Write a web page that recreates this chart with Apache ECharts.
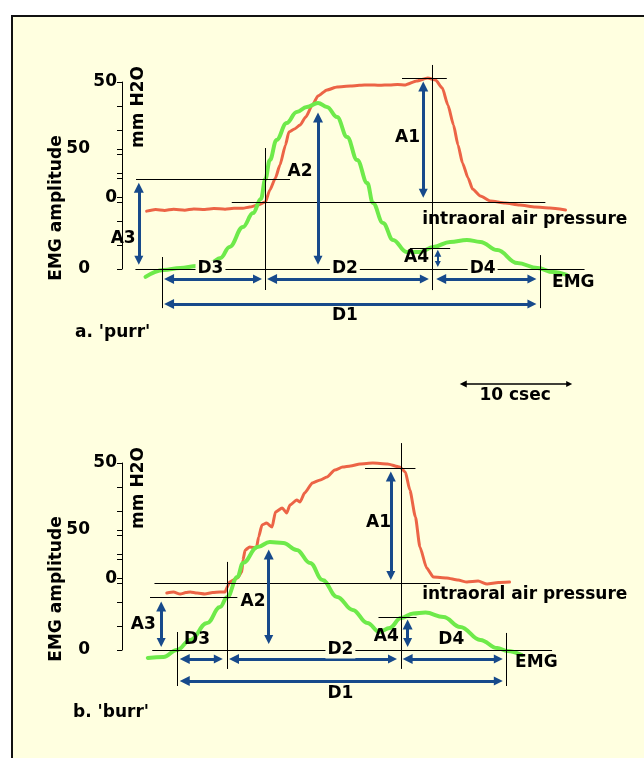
<!DOCTYPE html>
<html><head><meta charset="utf-8">
<script src="https://cdn.jsdelivr.net/npm/echarts@6/dist/echarts.min.js"></script>
<style>html,body{margin:0;padding:0;background:#fff}#c{width:644px;height:758px}</style>
</head><body><div id="c"></div>
<script>
// ---- time axis (csec) and amplitude scales ----
const timeRange = [0, 45];
const pressureRange = [0, 50];   // mm H2O
const emgRange = [0, 50];        // EMG amplitude
const tickLabels = [0, 50];

// ---- panel a: 'purr' ----
const purrPressure = [[2.2,-3.8],[3.0,-3.1],[3.8,-3.5],[4.6,-3.0],[5.6,-3.4],[6.4,-2.9],[7.4,-3.1],[8.2,-2.7],[9.2,-3.0],[10.0,-2.6],[10.8,-2.6],[11.4,-2.1],[12.1,-1.3],[12.8,0],[13.2,5.0],[13.7,10.0],[14.1,15.4],[14.6,23.8],[14.9,29.2],[15.4,30.4],[15.9,32.1],[16.4,35.4],[17.0,40.4],[17.5,44.2],[18.3,46.7],[19.2,47.9],[20.4,48.3],[21.2,48.6],[22.1,48.8],[23.0,48.6],[23.9,48.8],[24.6,49.0],[25.3,48.8],[26.3,50.4],[27.3,51.7],[28.0,50.8],[28.6,47.5],[29.1,40.4],[29.6,32.1],[30.0,23.8],[30.4,16.3],[30.9,10.0],[31.3,5.4],[32.0,2.5],[32.9,0.4],[34.2,-0.4],[35.5,-1.3],[36.9,-2.1],[38.2,-2.5],[39.6,-3.3]];
const purrEMG = [[2.1,-3.3],[3.7,-0.4],[5.2,0.4],[6.7,1.3],[7.9,2.5],[8.8,4.6],[9.6,9.2],[10.8,17.5],[11.7,23.3],[12.4,29.2],[12.8,37.5],[13.2,45.4],[13.8,53.8],[14.7,60.8],[15.6,65.4],[16.5,67.5],[17.5,69.2],[18.3,67.5],[19.2,63.3],[20.1,55.0],[21.0,45.4],[21.9,35.8],[22.4,27.5],[23.3,19.2],[24.2,12.1],[25.4,7.1],[26.6,7.1],[27.8,9.2],[29.3,11.3],[30.8,12.1],[32.0,11.3],[33.5,7.9],[35.3,2.5],[37.1,0.4],[38.5,-1.3],[39.7,-2.5]];
// reference lines (black), in pressure units / EMG units
const purrRefP = [[[9.8,0],[37.8,0]], [[25.0,51.7],[29.0,51.7]], [[27.7,57.1],[27.7,-36.7]]];
const purrRefE = [[[1.2,0],[41.3,0]], [[1.25,37.5],[15.0,37.5]], [[12.8,50.4],[12.8,-8.75]], [[3.6,5.0],[3.6,-16.3]], [[37.3,5.8],[37.3,-16.3]], [[25.7,8.75],[29.3,8.75]]];
// measurement arrows (blue)
const purrArrowsP = [[[26.9,48.1],[26.9,3.6]]];
const purrArrowsE = [[[17.5,63.1],[17.5,3.6]], [[1.5,33.9],[1.5,3.6]], [[4.2,-4.2],[12.1,-4.2]], [[13.4,-4.2],[27.0,-4.2]], [[28.5,-4.2],[36.6,-4.2]], [[4.2,-14.6],[36.6,-14.6]]];
const purrSmallArrowsE = [[[28.2,6.6],[28.2,2.1]]];
const purrLabelsP = [{text:'A1', at:[25.5,26.7]}, {text:'intraoral air pressure', at:[26.8,-7.5], left:true}];
const purrLabelsE = [{text:'A2', at:[15.9,40.4]}, {text:'A3', at:[0.1,12.5]}, {text:'A4', at:[26.3,4.6]}, {text:'D3', at:[7.9,0], bg:true}, {text:'D2', at:[19.9,0], bg:true}, {text:'D4', at:[32.2,0], bg:true}, {text:'D1', at:[19.9,-19.6]}, {text:'EMG', at:[38.4,-5.8], left:true}, {text:'10 csec', at:[35.1,-52.9]}];
// 10 csec scale bar
const scaleBar = [[[30.47,-47.9],[39.93,-47.9]]];

// ---- panel b: 'burr' ----
const burrPressure = [[4.0,-4.2],[4.6,-3.8],[5.2,-4.6],[5.7,-4.0],[6.1,-3.75],[6.7,-4.2],[7.4,-4.6],[8.1,-4.0],[8.75,-3.75],[9.2,-3.75],[9.4,-1.7],[9.6,0.4],[10.3,2.1],[10.7,4.6],[10.8,9.6],[11.0,13.75],[11.4,15.0],[12.0,14.6],[12.2,19.2],[12.5,24.2],[12.9,25.0],[13.4,23.3],[13.7,29.6],[14.3,31.25],[14.7,29.2],[15.0,32.5],[15.6,34.6],[15.9,33.75],[16.3,37.5],[17.0,41.7],[17.7,42.9],[18.3,44.2],[19.0,47.1],[19.7,48.3],[20.4,48.75],[21.25,49.6],[22.4,50.0],[23.7,49.6],[24.8,48.3],[25.3,46.25],[25.7,38.75],[26.2,27.5],[26.6,15.0],[27.2,6.25],[27.8,2.5],[29.0,2.1],[30.0,1.2],[30.8,0.4],[31.8,0.8],[32.6,-0.4],[33.6,0.2],[34.6,0.4]];
const burrEMG = [[2.3,-3.3],[3.7,-2.9],[4.9,0],[6.1,4.2],[7.6,11.25],[8.75,17.9],[9.4,22.1],[10.3,30.4],[10.8,36.25],[12.1,42.9],[13.2,45.0],[14.4,44.6],[15.6,41.7],[16.8,36.25],[17.9,29.2],[19.2,22.1],[20.6,16.7],[21.9,11.25],[23.0,7.5],[23.9,9.2],[24.9,13.3],[26.0,15.2],[27.1,15.6],[28.7,13.75],[30.2,9.6],[32.0,4.2],[33.5,0.8],[34.4,-0.4],[35.7,-2.1]];
const burrRefP = [[[2.9,0],[28.4,0]], [[21.7,47.9],[26.2,47.9]], [[24.9,58.3],[24.9,-35.8]]];
const burrRefE = [[[2.7,0],[38.4,0]], [[2.5,22.1],[10.3,22.1]], [[9.4,36.7],[9.4,-7.9]], [[4.9,7.5],[4.9,-15.0]], [[34.3,7.1],[34.3,-15.0]], [[22.9,13.75],[26.3,13.75]]];
const burrArrowsP = [[[24.0,44.35],[24.0,3.15]]];
const burrArrowsE = [[[13.1,39.8],[13.1,4.4]], [[3.5,18.1],[3.5,3.15]], [[25.5,10.6],[25.5,3.15]], [[5.6,-3.75],[8.6,-3.75]], [[10.0,-3.75],[24.15,-3.75]], [[25.5,-3.75],[33.6,-3.75]], [[5.6,-12.9],[33.6,-12.9]]];
const burrLabelsP = [{text:'A1', at:[22.9,25.0]}, {text:'intraoral air pressure', at:[26.8,-5.0], left:true}];
const burrLabelsE = [{text:'A2', at:[11.7,20.0]}, {text:'A3', at:[1.9,10.4]}, {text:'A4', at:[23.6,5.4]}, {text:'D3', at:[6.7,4.2]}, {text:'D2', at:[19.5,0], bg:true}, {text:'D4', at:[29.4,4.2]}, {text:'D1', at:[19.5,-18.3]}, {text:'EMG', at:[35.1,-5.4], left:true}];

// ---- styling / layout ----
const FONT = 'DejaVu Sans';
const RED = '#EC6446', GREEN = '#6EEA4A', BLUE = '#174A8B', BG = '#FFFFE0';
const panels = [
  {pTop:82, eTop:149, pressure:purrPressure, emg:purrEMG, refP:purrRefP, refE:purrRefE, arrP:purrArrowsP, arrE:purrArrowsE, smallE:purrSmallArrowsE, labP:purrLabelsP, labE:purrLabelsE, bar:scaleBar},
  {pTop:463, eTop:530, pressure:burrPressure, emg:burrEMG, refP:burrRefP, refE:burrRefE, arrP:burrArrowsP, arrE:burrArrowsE, smallE:[], labP:burrLabelsP, labE:burrLabelsE, bar:[]}
];
const GL = 122, GW = 504, GH = 120;

const grid = [], xAxis = [], yAxis = [], series = [];
const txt = {fontFamily:FONT, fontWeight:'bold', fontSize:17, color:'#000', textBorderWidth:0, opacity:1};

function lineSer(data, gi, color, width, smooth, z){
  return {type:'line', xAxisIndex:gi, yAxisIndex:gi, data, symbol:'none', showSymbol:false, clip:false, silent:true,
    smooth, smoothMonotone:'x', z, lineStyle:{color, width, cap:'round', join:'round'}, emphasis:{disabled:true}};
}
function linesSer(list, gi, color, width, sym, symSize, z){
  return {type:'lines', coordinateSystem:'cartesian2d', xAxisIndex:gi, yAxisIndex:gi, clip:false, silent:true, z,
    symbol: sym, symbolSize: symSize,
    lineStyle:{color, width, opacity:1, curveness:0}, itemStyle:{color},
    data: list.map(c => ({coords:c}))};
}
function labelSer(items, gi){
  return {type:'scatter', xAxisIndex:gi, yAxisIndex:gi, clip:false, silent:true, symbolSize:0, z:8,
    itemStyle:{color:'#000', opacity:1},
    data: items.map(it => ({name: it.text, value: it.at,
      label: Object.assign({color:'#000'}, it.left ? {position:'right', distance:0} : (it.bg ? {backgroundColor:BG, padding:[0,2]} : {}))})),
    label: Object.assign({show:true, position:'inside', formatter:'{b}', lineHeight:17}, txt),
    emphasis:{disabled:true}};
}

panels.forEach((pn, i) => {
  const gp = 2*i, ge = 2*i+1;
  [pn.pTop, pn.eTop].forEach(top => {
    grid.push({left:GL, top, width:GW, height:GH, outerBoundsMode:'none', containLabel:false});
  });
  [gp, ge].forEach(g => xAxis.push({gridIndex:g, type:'value', min:timeRange[0], max:timeRange[1], show:false}));
  yAxis.push({gridIndex:gp, type:'value', min:pressureRange[0], max:pressureRange[1], interval:10, position:'left',
    axisLine:{show:true, lineStyle:{color:'#000', width:1}}, axisTick:{show:true, length:5, lineStyle:{color:'#000'}},
    splitLine:{show:false},
    axisLabel:Object.assign({margin:5, formatter: v => v === tickLabels[0] ? '{lo|' + v + '}' : (v === tickLabels[1] ? String(v) : ''),
      rich:{lo:Object.assign({padding:[0,0,9,0]}, txt)}}, txt)});
  yAxis.push({gridIndex:ge, type:'value', min:emgRange[0], max:emgRange[1], interval:10, position:'left', offset:27,
    axisLine:{show:true, lineStyle:{color:'#000', width:1}}, axisTick:{show:true, length:5, lineStyle:{color:'#000'}},
    splitLine:{show:false},
    axisLabel:Object.assign({margin:5, formatter: v => tickLabels.includes(v) ? String(v) : ''}, txt)});

  series.push(lineSer(pn.pressure, gp, RED, 3, 0.2, 2));
  series.push(lineSer(pn.emg, ge, GREEN, 4, 0.4, 2));
  series.push(linesSer(pn.refP, gp, '#000', 1, 'none', 0, 4));
  series.push(linesSer(pn.refE, ge, '#000', 1, 'none', 0, 4));
  series.push(linesSer(pn.arrP, gp, BLUE, 3, ['triangle','triangle'], [10,9], 5));
  series.push(linesSer(pn.arrE, ge, BLUE, 3, ['triangle','triangle'], [10,9], 5));
  if (pn.smallE.length) series.push(linesSer(pn.smallE, ge, BLUE, 2, ['triangle','triangle'], [7,6], 5));
  if (pn.bar.length) series.push(linesSer(pn.bar, ge, '#000', 1.5, ['triangle','triangle'], [7,6], 5));
  series.push(labelSer(pn.labP, gp));
  series.push(labelSer(pn.labE, ge));
});

function gtext(text, x, y, rot, align){
  return {type:'text', x, y, rotation: rot, z:10,
    style:{text, font:'bold 17px "DejaVu Sans"', fill:'#000', align: align || 'center', verticalAlign:'middle',
      textAlign: align || 'center', textVerticalAlign:'middle'}};
}

const option = {
  backgroundColor:'#ffffff',
  animation:false,
  graphic:[
    {type:'rect', z:-10, shape:{x:12, y:16, width:800, height:900}, style:{fill:BG, stroke:'#111', lineWidth:2}},
    gtext('EMG amplitude', 57, 208, Math.PI/2),
    gtext('mm H2O', 139, 107, Math.PI/2),
    gtext('EMG amplitude', 57, 589, Math.PI/2),
    gtext('mm H2O', 139, 488, Math.PI/2),
    gtext("a. 'purr'", 75, 333, 0, 'left'),
    gtext("b. 'burr'", 73, 713, 0, 'left')
  ],
  grid, xAxis, yAxis, series
};
const chart = echarts.init(document.getElementById('c'));
chart.setOption(option);
</script></body></html>
